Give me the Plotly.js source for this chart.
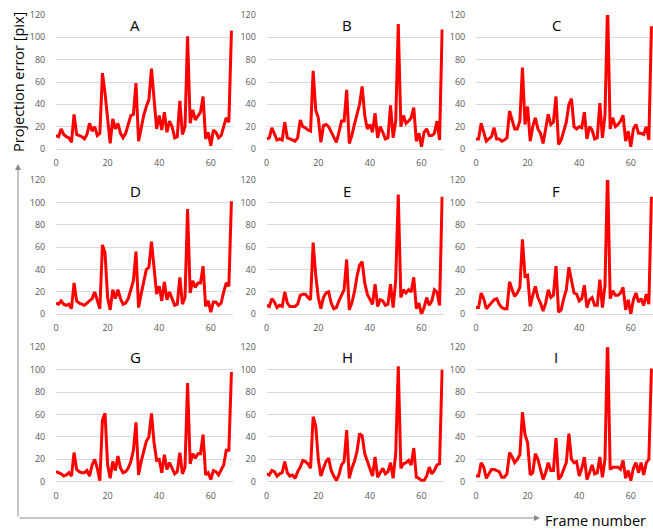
<!DOCTYPE html>
<html><head><meta charset="utf-8">
<script src="https://cdn.plot.ly/plotly-3.0.1.min.js"></script>
<style>html,body{margin:0;padding:0;background:#fff}#chart{width:653px;height:529px}</style>
</head><body><div id="chart"></div>
<script>
// Frame numbers 0..68
var frames = [];
for (var i = 0; i <= 68; i++) frames.push(i);

var panelNames = ["A","B","C","D","E","F","G","H","I"];

var errA = [12,11,18,13,11,10,6,31,13,12,11,9,13,23,16,20,12,14,68,50,25,5,27,18,23,14,10,14,22,30,31,59,7,20,30,38,44,72,45,18,30,17,33,15,25,20,10,11,43,13,20,101,23,35,26,30,33,47,9,15,3,17,15,10,12,20,28,24,106];
var errB = [9,10,19,13,8,9,8,24,10,9,8,7,10,26,20,19,17,16,70,35,28,6,21,22,20,15,10,6,15,25,25,53,5,12,22,30,40,56,30,18,22,15,32,10,20,15,9,10,39,10,25,112,20,30,23,25,28,37,7,14,2,15,18,12,12,14,25,8,107];
var errC = [9,9,23,14,7,9,11,19,9,9,7,8,10,34,25,18,18,25,73,22,38,7,20,28,18,14,5,18,31,22,24,47,4,8,16,24,40,45,20,18,20,19,33,9,20,17,9,10,41,10,30,130,18,28,20,22,25,30,7,16,2,18,22,14,14,13,20,8,110];
var errD = [10,9,12,9,8,9,5,28,12,10,9,8,10,12,14,20,12,5,62,55,15,4,22,14,22,14,9,10,14,22,30,56,6,18,28,40,42,65,42,18,25,12,29,13,20,14,8,9,33,9,15,94,19,30,24,28,28,43,7,12,2,11,11,8,10,20,28,25,101];
var errE = [8,7,14,11,6,8,7,20,10,7,7,7,9,17,18,18,15,13,64,35,15,5,15,19,20,10,5,6,12,17,22,49,4,10,20,34,44,47,28,18,14,9,27,7,13,12,8,9,27,6,30,107,15,22,19,22,20,33,5,10,0,6,15,8,12,22,20,8,105];
var errF = [6,6,19,14,5,8,10,13,14,9,6,5,5,29,22,16,19,24,67,34,35,7,17,25,15,10,3,10,22,15,17,43,2,4,14,22,42,30,19,18,12,14,26,6,13,15,8,8,31,6,26,130,14,21,17,17,19,24,4,13,0,13,19,11,14,8,18,9,105];
var errG = [9,8,7,5,6,8,5,26,11,9,8,8,10,5,15,20,12,1,55,61,15,3,18,10,23,12,8,9,12,18,28,53,6,18,26,36,40,61,35,19,20,8,24,11,17,12,7,9,26,7,13,88,16,25,21,25,25,42,6,8,2,10,9,6,10,15,28,28,98];
var errH = [7,6,10,9,5,7,8,18,8,5,6,3,9,13,19,18,16,12,58,50,20,5,12,18,21,10,5,1,6,15,18,46,3,12,18,27,43,41,25,18,10,5,22,4,8,12,7,9,17,3,25,103,12,16,17,19,15,30,4,3,1,1,5,13,7,10,15,16,100];
var errI = [5,5,17,13,3,7,11,11,10,9,4,4,7,26,22,17,20,24,62,42,35,6,8,25,20,10,2,8,17,10,10,39,2,5,11,17,43,20,17,18,5,12,22,2,8,15,7,8,22,4,20,130,11,13,13,13,11,19,3,10,1,12,17,8,17,6,17,20,101];

var xTicks = [0,20,40,60];
var yTicks = [0,20,40,60,80,100,120];

var series = [errA,errB,errC,errD,errE,errF,errG,errH,errI];

var W = 653, H = 529;
var colX0 = [56, 266.7, 476];       // pixel of x=0
var pxPerUnit = 2.58;
var xMax = 68.6;
var rowTop = [15, 180, 347.3];      // pixel of y=120
var rowBot = [149, 314.3, 481.7];   // pixel of y=0
var titleX = [135, 347, 556];
var titleY = [25, 191, 357];

var data = [], layout = {
  width: W, height: H,
  margin: {l:0, r:0, t:0, b:0},
  paper_bgcolor: '#fff', plot_bgcolor: '#fff',
  showlegend: false,
  font: {family: 'Open Sans, sans-serif', color: '#595959'},
  annotations: [], shapes: []
};

for (var k = 0; k < 9; k++) {
  var r = Math.floor(k / 3), c = k % 3;
  var n = k + 1;
  var xa = 'xaxis' + (n === 1 ? '' : n), ya = 'yaxis' + (n === 1 ? '' : n);
  var xs = 'x' + (n === 1 ? '' : n), ys = 'y' + (n === 1 ? '' : n);
  data.push({
    x: frames, y: series[k], xaxis: xs, yaxis: ys,
    type: 'scatter', mode: 'lines',
    line: {color: '#ff0000', width: 3},
    hoverinfo: 'skip'
  });
  var x0 = colX0[c], x1 = x0 + xMax * pxPerUnit;
  layout[xa] = {
    domain: [x0 / W, Math.min(1, x1 / W)],
    range: [0, xMax], anchor: ys,
    tickvals: xTicks, ticks: 'outside', ticklen: 5, tickcolor: 'rgba(0,0,0,0)',
    showgrid: false, zeroline: false, showline: false,
    tickfont: {size: 9, color: '#595959'}, fixedrange: true
  };
  layout[ya] = {
    domain: [(H - rowBot[r]) / H, (H - rowTop[r]) / H],
    range: [0, 120], anchor: xs,
    tickvals: yTicks, ticks: 'outside', ticklen: 8, tickcolor: 'rgba(0,0,0,0)',
    showgrid: true, gridcolor: '#d9d9d9', gridwidth: 1,
    zeroline: true, zerolinecolor: '#d9d9d9', zerolinewidth: 1, showline: false,
    tickfont: {size: 9, color: '#595959'}, fixedrange: true
  };
  layout.annotations.push({
    xref: 'paper', yref: 'paper', x: titleX[c] / W, y: (H - titleY[r]) / H,
    text: panelNames[k], showarrow: false, xanchor: 'center', yanchor: 'middle',
    font: {size: 15, color: '#000', family: 'Open Sans, sans-serif'}
  });
}

// Axis arrows
layout.annotations.push({
  xref: 'paper', yref: 'paper', x: 18 / W, y: (H - 164) / H,
  ax: 0, ay: 354, text: '', showarrow: true,
  arrowhead: 2, arrowsize: 1.2, arrowwidth: 1, arrowcolor: '#8c8c8c'
});
layout.annotations.push({
  xref: 'paper', yref: 'paper', x: 540 / W, y: (H - 518) / H,
  ax: -522, ay: 0, text: '', showarrow: true,
  arrowhead: 2, arrowsize: 1.2, arrowwidth: 1, arrowcolor: '#8c8c8c'
});
layout.annotations.push({
  xref: 'paper', yref: 'paper', x: 18 / W, y: (H - 82) / H,
  text: 'Projection error [pix]', showarrow: false, textangle: -90,
  xanchor: 'center', yanchor: 'middle',
  font: {size: 14.5, color: '#000', family: 'Open Sans, sans-serif'}
});
layout.annotations.push({
  xref: 'paper', yref: 'paper', x: 543 / W, y: (H - 520) / H,
  text: 'Frame number', showarrow: false,
  xanchor: 'left', yanchor: 'middle',
  font: {size: 14.5, color: '#000', family: 'Open Sans, sans-serif'}
});

Plotly.newPlot('chart', data, layout, {staticPlot: true, displayModeBar: false});
</script></body></html>
